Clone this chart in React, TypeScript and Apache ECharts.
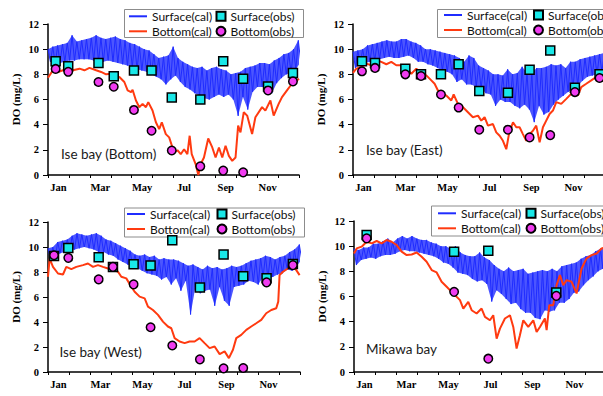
import React, { useEffect, useRef } from 'react';
import * as echarts from 'echarts';

const MONTHS = ['Jan', 'Feb', 'Mar', 'Apr', 'May', 'Jun', 'Jul', 'Aug', 'Sep', 'Oct', 'Nov', 'Dec'];
const WEEK_DAYS = Array.from({ length: 53 }, (_, k) => k * 7);

// ---------- Ise bay (Bottom) ----------
const p1SurfHi = [10.0,10.2,10.3,10.4,10.5,11.1,10.6,10.7,10.8,10.9,11.1,10.9,10.8,10.9,11.0,10.8,10.7,10.5,10.4,10.2,10.0,9.9,9.6,9.3,9.4,9.5,10.2,9.3,9.0,8.8,8.6,8.5,8.6,8.3,8.5,8.6,8.4,8.3,8.0,8.1,8.2,8.5,8.6,8.7,8.9,8.9,8.8,9.1,9.3,9.6,9.7,10.0,10.7];
const p1SurfLo = [9.0,8.8,8.9,9.0,9.1,9.1,9.2,9.2,9.2,9.1,9.0,9.0,9.1,9.0,8.9,8.8,8.7,8.6,8.4,8.3,8.2,8.0,7.8,7.6,7.2,7.6,7.9,7.4,7.0,6.8,6.5,6.3,6.1,6.0,6.2,6.4,6.2,6.4,6.0,4.7,6.2,5.2,6.6,7.0,7.0,6.9,6.5,7.3,7.7,8.0,8.1,8.4,9.0];
const p1Bottom = [[0,7.73],[8.7,8.45],[14.5,8.19],[21.7,8.32],[29,8.45],[36.2,8.32],[45.8,8.45],[53,8.32],[60.3,8.51],[70,8.32],[77.2,8.19],[84.5,8.0],[91.7,8.05],[96.5,7.65],[103.8,7.79],[111,7.39],[115.8,6.72],[120.7,6.59],[123,6.77],[127.9,5.92],[132.7,5.39],[137.5,5.65],[142.4,5.39],[145.8,5.79],[152,5.12],[156.9,4.19],[161.7,3.65],[165.5,4.19],[171.3,3.25],[176.2,2.99],[181,2.19],[183.4,1.79],[188.2,1.97],[193,1.65],[197.9,2.05],[202.7,1.65],[206,3.12],[209,1.65],[214.8,0.85],[218.6,0],[222,0.85],[226.8,1.39],[233,2.9],[238.9,2.19],[243.7,1.39],[248.6,2.19],[253.4,1.39],[258.2,2.32],[263,1.52],[267.9,1.12],[272.7,1.39],[276.5,3.92],[279.9,3.39],[284.7,4.99],[289.6,4.72],[296.8,3.25],[301.6,4.59],[311.3,5.39],[316.1,5.12],[323.4,5.92],[328.2,4.72],[335.4,5.65],[340.3,6.19],[347.5,6.72],[354.7,7.25],[362,7.52],[365,7.65]];
const p1ObsDays = [11.1,29.4,73.4,95.6,125,150.6,180,221.5,254.8,283.8,320,356.2];
const p1SurfObs = [9.04,8.64,8.9,7.84,8.3,8.3,6.16,6.0,9.04,7.65,7.04,8.1];
const p1BotObs = [8.43,8.2,7.39,7.01,5.17,3.52,1.95,0.69,0.35,0.21,6.72,7.44];

// ---------- Ise bay (East) ----------
const p2SurfHi = [9.8,9.9,10.0,10.3,10.4,10.5,10.6,10.7,10.6,10.6,10.8,10.8,10.6,10.5,10.3,10.0,10.0,9.9,9.8,9.7,9.6,9.5,9.3,9.0,9.5,9.3,8.7,8.5,8.3,8.0,8.0,7.9,8.4,8.0,8.1,8.6,8.1,8.1,8.5,8.5,8.6,8.8,8.7,8.8,8.5,9.0,9.0,9.2,9.3,9.4,9.5,9.6,9.7];
const p2SurfLo = [8.5,8.8,8.9,9.0,9.1,9.2,9.3,9.4,9.3,9.3,9.4,9.5,9.3,9.0,9.0,8.8,8.7,8.5,8.3,8.2,8.0,7.4,7.6,7.2,7.2,7.0,6.9,6.5,6.4,5.5,6.0,5.8,5.8,5.5,5.3,5.6,5.2,4.2,5.5,4.8,5.0,5.6,6.0,6.3,6.6,6.8,7.1,7.5,7.8,7.9,8.0,8.2,8.3];
const p2Bottom = [[0,8.11],[4.8,8.45],[12.1,8.59],[19.3,8.85],[26.5,8.72],[33.8,9.12],[41,8.99],[48.3,8.8],[55.5,8.99],[62.7,8.72],[70,8.72],[77.2,8.45],[84.5,8.05],[91.7,8.45],[98.9,8.05],[106.2,7.92],[113.4,7.52],[118.2,7.25],[123,6.72],[127.9,6.59],[135.1,6.32],[142.4,5.92],[145.8,6.4],[152,5.65],[159.3,5.39],[166.5,4.99],[173.7,4.59],[181,4.72],[185.8,4.32],[190.6,4.59],[195.5,3.92],[202.7,4.05],[207.5,3.39],[212.4,3.12],[217.2,2.72],[222,2.05],[225.9,3.25],[231.7,4.19],[236.5,3.79],[241.3,3.79],[246.1,3.25],[251,2.72],[255.8,3.25],[260.6,3.52],[265.4,3.92],[270.3,2.59],[275.1,3.79],[279.9,4.32],[284.7,4.85],[289.6,5.12],[294.4,5.79],[301.6,5.65],[308.9,6.05],[318.5,6.59],[325.8,6.32],[330.6,6.99],[337.8,7.25],[345.1,7.52],[352.3,7.79],[359.6,7.92],[365,8.0]];
const p2ObsDays = [13,31.9,75.8,98.5,127.4,153,182.9,224.4,255.8,285.7,321.4,357.1];
const p2SurfObs = [9.04,8.91,8.45,8.0,8.0,8.8,6.67,6.53,8.37,9.89,6.93,8.0];
const p2BotObs = [8.24,8.51,8.0,7.87,6.4,5.36,3.6,3.6,2.99,3.17,6.59,7.71];

// ---------- Ise bay (West) ----------
const p3SurfHi = [9.9,10.0,10.4,10.5,10.6,10.9,11.1,11.0,10.9,11.0,11.1,10.9,10.6,10.5,10.3,10.1,9.9,9.7,9.4,9.3,9.4,9.2,9.3,9.0,9.1,9.0,9.0,8.9,8.7,8.5,8.6,8.4,8.2,8.5,8.3,8.4,8.2,8.3,8.5,8.4,8.5,8.7,8.9,9.0,9.1,9.3,9.2,9.0,9.2,9.3,9.6,9.8,10.2];
const p3SurfLo = [9.0,9.1,9.5,9.6,9.7,9.8,9.9,10.0,9.9,9.8,9.6,9.6,9.4,9.3,9.0,8.8,8.6,8.4,8.3,8.1,7.9,7.8,7.7,7.4,7.6,7.0,7.5,6.5,7.3,4.6,6.8,6.3,6.5,6.6,5.3,6.8,5.7,5.3,6.8,6.9,7.0,7.3,7.2,7.0,7.6,7.5,7.6,7.8,7.9,8.2,8.1,8.5,9.0];
const p3Bottom = [[0,7.62],[2.4,9.08],[7.2,8.41],[14.5,7.88],[21.7,7.8],[26.5,8.41],[33.8,8.23],[41,8.41],[50.7,8.55],[57.9,8.68],[65.2,8.41],[72.4,8.55],[79.6,8.41],[86.9,8.28],[94.1,8.23],[101.4,8.02],[106.2,7.62],[113.4,7.49],[120.7,6.82],[125.5,6.42],[132.7,6.03],[140,5.89],[144.8,5.23],[152,4.96],[159.3,4.57],[166.5,4.03],[173.7,3.64],[178.6,3.5],[183.4,2.71],[190.6,2.44],[197.9,2.31],[205.1,2.44],[212.4,2.44],[219.6,2.71],[226.8,2.31],[234.1,1.91],[241.3,2.04],[248.6,1.43],[255.8,1.65],[262,1.11],[267.9,1.78],[272.7,2.71],[279.9,2.97],[287.2,3.37],[294.4,3.64],[301.6,3.9],[308.9,4.17],[316.1,4.7],[323.4,4.96],[330.6,5.1],[333.5,5.63],[335.4,7.75],[340.3,8.02],[347.5,8.28],[354.7,8.55],[359.6,8.15],[364.4,7.75]];
const p3ObsDays = [8.7,29.4,73.4,94.1,124,148.6,180,220,254.3,282.8,316.6,354.7];
const p3SurfObs = [9.29,9.93,9.19,8.41,8.63,8.52,10.54,6.77,9.4,7.66,7.51,8.65];
const p3BotObs = [9.34,9.13,7.41,8.41,7.01,3.58,2.12,1.01,0.29,0.32,7.17,8.55];

// ---------- Mikawa bay ----------
const p4SurfHi = [9.8,9.7,9.9,9.9,10.2,10.2,10.4,10.6,10.3,10.6,10.8,10.6,10.8,10.6,10.5,10.5,10.3,10.2,10.0,10.0,9.8,10.0,9.5,9.3,9.2,9.2,9.5,9.1,8.9,8.5,8.2,8.0,8.3,8.0,8.1,8.2,7.8,7.9,8.0,8.1,8.0,8.2,8.0,8.4,8.5,8.6,8.7,9.0,9.2,9.3,9.6,9.8,9.9];
const p4SurfLo = [8.5,8.9,9.0,9.1,9.0,9.2,9.3,9.3,9.4,9.6,9.7,9.6,9.6,9.5,9.4,9.3,9.2,9.0,8.7,8.6,8.3,7.9,7.8,7.7,7.4,7.2,7.3,7.0,5.6,6.5,6.2,5.8,5.4,5.5,5.0,4.7,4.7,4.3,4.2,4.9,4.8,4.9,5.5,5.5,5.8,6.3,6.4,6.9,7.3,7.6,8.0,8.2,8.3];
const p4Bottom = [[0,9.42],[3.9,9.82],[11.1,9.96],[18.3,10.35],[25.6,10.22],[32.8,10.41],[40.1,10.22],[47.3,10.49],[54.5,10.35],[61.8,10.09],[69,9.56],[76.3,9.29],[83.5,9.34],[90.7,9.5],[98,9.16],[105.2,8.76],[112.5,8.1],[119.7,7.91],[126.9,7.17],[134.2,6.77],[141.4,6.37],[146.2,6.11],[153.5,5.71],[158.3,5.04],[165.5,5.57],[170.4,4.91],[177.6,4.65],[184.8,5.04],[189.7,4.38],[196.9,4.11],[201.7,4.51],[206.6,2.65],[211.4,3.45],[218.6,4.25],[225.9,4.51],[230.7,3.58],[235.5,1.86],[240.3,2.92],[245.2,4.11],[252.4,3.58],[259.7,4.11],[264.5,3.19],[269.3,3.58],[276.5,4.25],[279,3.32],[282.8,5.31],[288.6,5.31],[293.4,6.9],[298.3,7.7],[303.1,6.9],[307.9,7.3],[315.2,7.17],[322.4,6.24],[329.6,8.23],[336.9,9.03],[344.1,9.29],[351.4,9.42],[358.6,9.82],[365,9.9]];
const p4ObsDays = [18.3,145,194.5,293];
const p4SurfObs = [10.88,9.56,9.64,6.32];
const p4BotObs = [10.62,6.37,1.06,6.05];

const BLUE = '#1f2cff';
const RED = '#ff3a10';
const CYAN = '#19e8e8';
const MAGENTA = '#f03cf0';
const SERIF = '"Liberation Serif", "Times New Roman", serif';
const SANS = 'Lato, "Open Sans", sans-serif';

const panels = [
  { label: 'Ise bay (Bottom)', hi: p1SurfHi, lo: p1SurfLo, bottom: p1Bottom, obsDays: p1ObsDays, surfObs: p1SurfObs, botObs: p1BotObs,
    grid: { left: 48, top: 24, width: 251, height: 151 }, labelPos: [61, 154],
    box: [124.5, 9.5, 179, 28], legA: [129, 8.8], legB: [215.5, 8.8] },
  { label: 'Ise bay (East)', hi: p2SurfHi, lo: p2SurfLo, bottom: p2Bottom, obsDays: p2ObsDays, surfObs: p2SurfObs, botObs: p2BotObs,
    grid: { left: 353, top: 24, width: 252, height: 151 }, labelPos: [366, 150],
    box: [437.5, 9.5, 200, 28], legA: [444, 7.5], legB: [533, 7.5] },
  { label: 'Ise bay (West)', hi: p3SurfHi, lo: p3SurfLo, bottom: p3Bottom, obsDays: p3ObsDays, surfObs: p3SurfObs, botObs: p3BotObs,
    grid: { left: 48, top: 222, width: 252, height: 150 }, labelPos: [59.5, 352],
    box: [124.5, 208, 180, 29], legA: [127, 206.5], legB: [216.5, 206.5] },
  { label: 'Mikawa bay', hi: p4SurfHi, lo: p4SurfLo, bottom: p4Bottom, obsDays: p4ObsDays, surfObs: p4SurfObs, botObs: p4BotObs,
    grid: { left: 354, top: 221, width: 252, height: 151 }, labelPos: [366, 349],
    box: [431.5, 206, 200, 30], legA: [438, 205.8], legB: [525.5, 205.8] },
];

const HALF_STEP = 3.5;

function zigzag(days: number[], hi: number[], lo: number[]) {
  const out: number[][] = [];
  days.forEach((d, i) => {
    out.push([d, hi[i]]);
    out.push([d + HALF_STEP, lo[i]]);
  });
  return out;
}

function buildOption() {
  const grid: any[] = [];
  const xAxis: any[] = [];
  const yAxis: any[] = [];
  const series: any[] = [];
  const legend: any[] = [];
  const graphic: any[] = [];

  panels.forEach((p, i) => {
    grid.push({ ...p.grid, containLabel: false });
    xAxis.push({
      type: 'category', gridIndex: i, data: MONTHS, boundaryGap: true,
      axisLine: { lineStyle: { color: '#000', width: 1.5 } },
      axisTick: { show: true, length: 3, interval: 0, lineStyle: { color: '#000', width: 1 } },
      axisLabel: { interval: 1, color: '#000', fontFamily: SERIF, fontWeight: 'bold', fontSize: 10.5, margin: 7 },
      splitLine: { show: false },
    });
    xAxis.push({ type: 'value', gridIndex: i, min: 0, max: 365, show: false, splitLine: { show: false } });
    yAxis.push({
      type: 'value', gridIndex: i, min: 0, max: 12, interval: 2,
      name: 'DO (mg/L)', nameLocation: 'middle', nameGap: 27,
      nameTextStyle: { color: '#000', fontFamily: SERIF, fontWeight: 'bold', fontSize: 11 },
      axisLine: { show: true, lineStyle: { color: '#000', width: 1.5 } },
      axisTick: { show: true, length: 5, lineStyle: { color: '#000', width: 1 } },
      axisLabel: { color: '#000', fontFamily: SERIF, fontWeight: 'bold', fontSize: 10.5, margin: 9 },
      splitLine: { show: false },
    });
    const xi = 2 * i + 1;
    // blue surface band: envelope polygon of the hourly noise
    series.push({
      name: 'surface-band', type: 'custom', xAxisIndex: xi, yAxisIndex: i, clip: true, silent: true, z: 1,
      data: [[0, 0]],
      renderItem: (_params: any, api: any) => {
        const pts: number[][] = [];
        WEEK_DAYS.forEach((d, k) => pts.push(api.coord([d, p.hi[k]])));
        for (let k = WEEK_DAYS.length - 1; k >= 0; k--) pts.push(api.coord([WEEK_DAYS[k] + HALF_STEP, p.lo[k]]));
        return { type: 'polygon', shape: { points: pts }, style: { fill: BLUE, opacity: 0.8 } };
      },
    });
    series.push({
      name: 'Surface(cal)', type: 'line', xAxisIndex: xi, yAxisIndex: i,
      data: zigzag(WEEK_DAYS, p.hi, p.lo), symbol: 'none', showSymbol: false,
      lineStyle: { color: BLUE, width: 1 }, itemStyle: { color: BLUE }, z: 2, silent: true,
    });
    series.push({
      name: 'Bottom(cal)', type: 'line', xAxisIndex: xi, yAxisIndex: i,
      data: p.bottom, symbol: 'none', showSymbol: false,
      lineStyle: { color: RED, width: 2 }, itemStyle: { color: RED }, z: 3, silent: true,
    });
    series.push({
      name: 'Surface(obs)', type: 'scatter', xAxisIndex: xi, yAxisIndex: i,
      data: p.obsDays.map((d, k) => [d, p.surfObs[k]]), symbol: 'rect', symbolSize: 9,
      itemStyle: { color: CYAN, borderColor: '#000', borderWidth: 1.5, opacity: 1 }, z: 4, silent: true,
    });
    series.push({
      name: 'Bottom(obs)', type: 'scatter', xAxisIndex: xi, yAxisIndex: i,
      data: p.obsDays.map((d, k) => [d, p.botObs[k]]), symbol: 'circle', symbolSize: 8.5,
      itemStyle: { color: MAGENTA, borderColor: '#000', borderWidth: 1.5, opacity: 1 }, z: 5, silent: true,
    });

    const txt = { fontFamily: SANS, fontSize: 12, color: '#111', lineHeight: 15 };
    legend.push({
      data: [
        { name: 'Surface(cal)', icon: 'rect', itemStyle: { color: BLUE, borderWidth: 0 } },
        { name: 'Bottom(cal)', icon: 'rect', itemStyle: { color: RED, borderWidth: 0 } },
      ],
      orient: 'vertical', left: p.legA[0], top: p.legA[1],
      itemWidth: 18, itemHeight: 2, itemGap: 0, padding: 0, textStyle: txt, selectedMode: false,
    });
    legend.push({
      data: ['Surface(obs)', 'Bottom(obs)'], orient: 'vertical', left: p.legB[0], top: p.legB[1],
      itemWidth: 9, itemHeight: 9, itemGap: 0, padding: 0, textStyle: txt, selectedMode: false,
    });
    graphic.push({
      type: 'rect', shape: { x: p.box[0], y: p.box[1], width: p.box[2], height: p.box[3] },
      style: { fill: 'rgba(255,255,255,0)', stroke: '#8c8c8c', lineWidth: 1 }, z: 1, silent: true,
    });
    graphic.push({
      type: 'text', x: p.labelPos[0], y: p.labelPos[1],
      style: { text: p.label, fontFamily: SANS, fontSize: 13.5, fill: '#1a1a1a', verticalAlign: 'middle' },
      z: 10, silent: true,
    });
  });

  return { animation: false, backgroundColor: '#fff', grid, xAxis, yAxis, series, legend, graphic };
}

export default function App() {
  const ref = useRef<HTMLDivElement>(null);
  useEffect(() => {
    if (!ref.current) return;
    const chart = echarts.init(ref.current, undefined, { renderer: 'svg' });
    chart.setOption(buildOption() as any);
    return () => chart.dispose();
  }, []);
  return (
    <div style={{ position: 'fixed', left: 0, top: 0, width: 603, height: 396, overflow: 'hidden', background: '#fff' }}>
      <div ref={ref} style={{ width: 612, height: 396 }} />
    </div>
  );
}
